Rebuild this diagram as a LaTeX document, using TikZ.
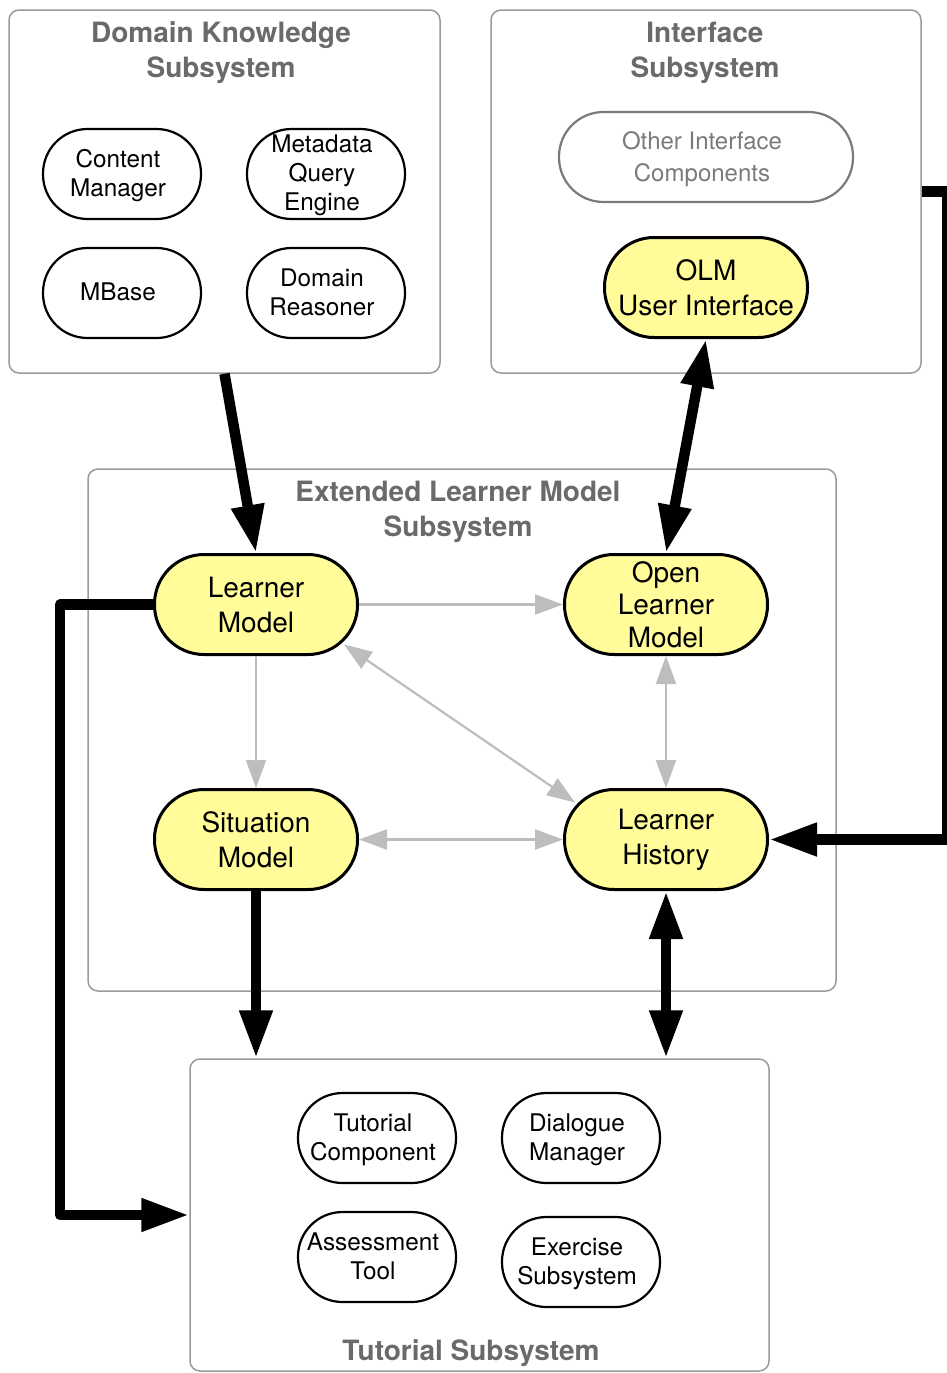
\documentclass[tikz,border=0pt]{standalone}
\usepackage{fontspec}
\setmainfont{TeX Gyre Heros}
\usetikzlibrary{arrows.meta,calc}
\definecolor{boxgray}{HTML}{9A9A9A}
\definecolor{titlegray}{HTML}{6A6A6A}
\definecolor{othergray}{HTML}{7A7A7A}
\definecolor{linkgray}{HTML}{BDBDBD}
\definecolor{hl}{HTML}{FFFC99}
% centred lines, set a little left of and below the box centre
\newcommand\leftset[1]{\kern-4pt\raisebox{0pt}[\height][\dimexpr\depth-4pt\relax]{\begin{tabular}{@{}c@{}}#1\end{tabular}}\kern4pt}

\begin{document}
\begin{tikzpicture}[x=1pt,y=-1pt,
  subsys/.style={draw=boxgray, line width=1.5pt, rounded corners=10pt, inner sep=0pt},
  systitle/.style={text=titlegray, font=\bfseries\fontsize{28}{35}\selectfont, align=center, inner sep=0pt},
  part/.style={draw=black, line width=2.2pt, rounded corners=44.5pt, minimum width=158pt,
    minimum height=90pt, inner sep=0pt, font=\fontsize{24.3}{29}\selectfont},
  other/.style={draw=othergray, line width=2.2pt, rounded corners=44.5pt, minimum width=294pt,
    minimum height=90pt, inner sep=0pt, text=othergray, font=\fontsize{24}{32}\selectfont},
  core/.style={draw=black, fill=hl, line width=3pt, rounded corners=49.5pt, minimum width=203pt,
    minimum height=100pt, inner sep=0pt, align=center, font=\fontsize{28}{35}\selectfont},
  heavy/.style={line width=10.5pt, line join=round, -{Triangle[length=48pt,width=31pt]}},
  heavyboth/.style={line width=10.5pt, {Triangle[length=48pt,width=31pt]}-{Triangle[length=48pt,width=31pt]}},
  light/.style={draw=linkgray, line width=2.2pt, -{Triangle[length=28pt,width=20pt]}},
  lightboth/.style={draw=linkgray, line width=2.2pt, {Triangle[length=28pt,width=20pt]}-{Triangle[length=28pt,width=20pt]}}
]
\useasboundingbox (0,0) rectangle (947,1373);

% subsystem frames
\node[subsys, minimum width=431pt, minimum height=363pt] (dk) at (224.5,191.5) {};
\node[subsys, minimum width=430pt, minimum height=363pt] (ifc) at (706,191.5) {};
\node[subsys, minimum width=748pt, minimum height=522pt] (elm) at (462,730) {};
\node[subsys, minimum width=579pt, minimum height=312pt] (tut) at (479.5,1215) {};

% subsystem titles
\node[systitle] (dkt) at (221,53) {Domain Knowledge\\Subsystem};
\node[systitle] (ifct) at (705,53) {Interface\\Subsystem};
\node[systitle] (elmt) at (458,512) {Extended Learner Model\\Subsystem};
\node[systitle] (tutt) at (471,1353) {Tutorial Subsystem};

% domain knowledge components
\node[part] (cm) at (122,174) {\leftset{Content\\Manager}};
\node[part] (mq) at (326,174) {\leftset{Metadata\\Query\\Engine}};
\node[part] (mb) at (122,293) {\leftset{MBase}};
\node[part] (dr) at (326,293) {\leftset{Domain\\Reasoner}};

% interface components
\node[other] (oic) at (706,157) {\leftset{Other Interface\\Components}};
\node[core] (olmui) at (706,287.5) {OLM\\User Interface};

% extended learner model components
\node[core] (lm) at (256,604.5) {Learner\\Model};
\node[core, font=\fontsize{28}{32.5}\selectfont] (olm) at (666,604.5) {Open\\Learner\\Model};
\node[core] (sm) at (256,839.5) {Situation\\Model};
\node[core] (lh) at (666,839.5) {Learner\\History};

% tutorial components
\node[part] (tc) at (377,1138) {\leftset{Tutorial\\Component}};
\node[part] (dm) at (581,1138) {\leftset{Dialogue\\Manager}};
\node[part] (at) at (377,1257) {\leftset{Assessment\\Tool}};
\node[part] (es) at (581,1262) {\leftset{Exercise\\Subsystem}};

% links inside the learner model
\draw[light] (lm.east) -- (olm.west);
\draw[light] (lm.south) -- (sm.north);
\draw[lightboth] ($(lm.center)+(88,40)$) -- ($(lh.center)+(-91,-37)$);
\draw[lightboth] (olm.south) -- (lh.north);
\draw[lightboth] (sm.east) -- (lh.west);

% data flow between subsystems
\coordinate (rx) at (947,0);
\coordinate (lx) at (60,0);
\draw[heavy] (dk.south) -- (lm.north);
\draw[heavyboth] (olmui.south) -- (olm.north);
\draw[heavy] (ifc.east) -- (ifc.east -| rx) |- (lh.east);
\draw[heavy] (lm.west) -- (lm.west -| lx) |- (tut.west);
\draw[heavy] (sm.south) -- (sm.south |- tut.north);
\draw[heavyboth] (lh.south) -- (lh.south |- tut.north);
\end{tikzpicture}
\end{document}
